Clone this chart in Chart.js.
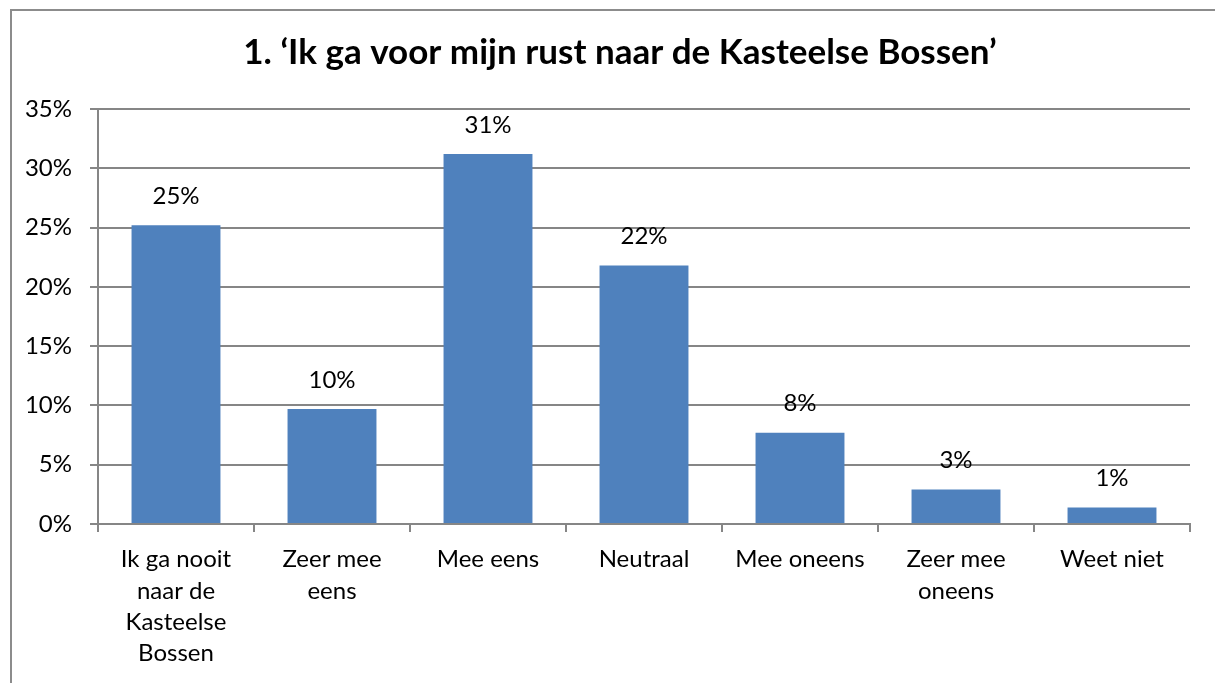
<!DOCTYPE html>
<html>
<head>
<meta charset="utf-8">
<script src="https://cdn.jsdelivr.net/npm/chart.js@4/dist/chart.umd.min.js"></script>
<style>
  html, body { margin: 0; padding: 0; background: #fff; overflow: hidden; }
  #frame { position: absolute; left: 10px; top: 9px; width: 1300px; height: 800px; border: 2px solid #8c8c8c; box-sizing: border-box; }
  #wrap { position: absolute; left: 0; top: 0; width: 1215px; height: 683px; }
</style>
</head>
<body>
<div id="frame"></div>
<div id="wrap"><canvas id="c" width="1215" height="683"></canvas></div>
<script>
// 1. 'Ik ga voor mijn rust naar de Kasteelse Bossen' — single series column chart
const categories = [
  ['Ik ga nooit', 'naar de', 'Kasteelse', 'Bossen'],
  ['Zeer mee', 'eens'],
  'Mee eens',
  'Neutraal',
  'Mee oneens',
  ['Zeer mee', 'oneens'],
  'Weet niet'
];
const shares = [25.2, 9.7, 31.2, 21.8, 7.7, 2.9, 1.4];
const yTicks = [0, 5, 10, 15, 20, 25, 30, 35];
const chartTitle = '1. \u2018Ik ga voor mijn rust naar de Kasteelse Bossen\u2019';

const FONT = 'Lato, "Open Sans", sans-serif';
const GRID = '#868686';

// value labels above each bar + title centred on the outer frame (as in the original)
const barLabels = {
  id: 'barLabels',
  afterDatasetsDraw(chart) {
    const ctx = chart.ctx;
    const meta = chart.getDatasetMeta(0);
    ctx.save();
    ctx.font = '24px ' + FONT;
    ctx.fillStyle = '#000';
    ctx.textAlign = 'center';
    ctx.textBaseline = 'middle';
    meta.data.forEach((bar, i) => {
      ctx.fillText(Math.round(shares[i]) + '%', bar.x, bar.y - 29);
    });
    ctx.font = 'bold 35px ' + FONT;
    ctx.fillText(chartTitle, 620, 53);
    ctx.restore();
  }
};

new Chart(document.getElementById('c'), {
  type: 'bar',
  data: {
    labels: categories,
    datasets: [{
      data: shares,
      backgroundColor: '#4F81BD',
      borderWidth: 0,
      barPercentage: 0.57,
      categoryPercentage: 1.0
    }]
  },
  options: {
    responsive: false,
    animation: false,
    layout: { padding: { left: 0, right: 25, top: 109, bottom: 0 } },
    scales: {
      y: {
        min: 0,
        max: 35,
        afterFit: s => { s.width = 98; },
        afterBuildTicks: s => { s.ticks = yTicks.map(v => ({ value: v })); },
        ticks: {
          callback: v => v + '%',
          font: { family: FONT, size: 24 },
          color: '#000',
          padding: 18
        },
        grid: { color: GRID, lineWidth: 2, tickLength: 8 },
        border: { color: GRID, width: 2 }
      },
      x: {
        afterFit: s => { s.height = 159; },
        ticks: {
          font: { family: FONT, size: 24, lineHeight: 1.3 },
          color: '#000',
          padding: 12,
          maxRotation: 0,
          autoSkip: false
        },
        grid: { drawOnChartArea: false, color: GRID, lineWidth: 2, tickLength: 8, offset: true },
        border: { color: GRID, width: 2 }
      }
    },
    plugins: {
      legend: { display: false },
      tooltip: { enabled: false },
      title: { display: false }
    }
  },
  plugins: [barLabels]
});
</script>
</body>
</html>
